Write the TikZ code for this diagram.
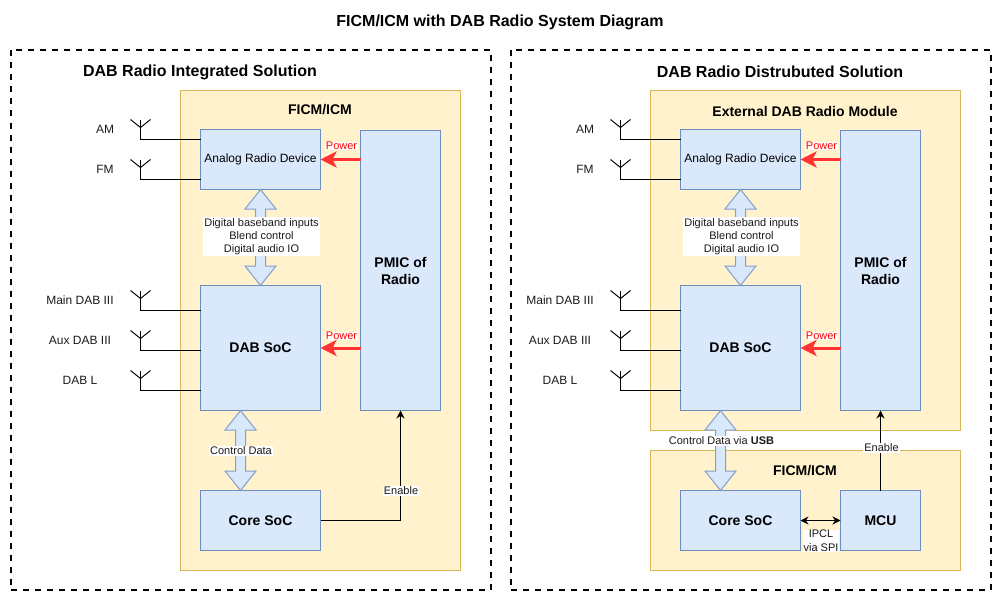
\documentclass[tikz,border=0pt]{standalone}
\usepackage{fontspec}
\setmainfont{Liberation Sans}
\usetikzlibrary{arrows.meta,calc}
\definecolor{yfill}{HTML}{FFF2CC}
\definecolor{ydraw}{HTML}{D6B656}
\definecolor{bfill}{HTML}{DAE8FC}
\definecolor{bdraw}{HTML}{6C8EBF}
\definecolor{pwr}{HTML}{FF3333}
\definecolor{ink}{HTML}{1A1A1A}
\newcommand{\dn}[1]{\raisebox{-1.3pt}{#1}}
\tikzset{
  every node/.style={inner sep=0pt,outer sep=0pt,align=center,text=black},
  frame/.style={draw=black,line width=2pt,dash pattern=on 6pt off 6pt},
  container/.style={draw=ydraw,fill=yfill,line width=1pt,anchor=north west},
  box/.style={draw=bdraw,fill=bfill,line width=1pt,anchor=north west},
  boxbig/.style={box,font=\fontsize{14}{17}\selectfont\bfseries},
  boxsmall/.style={box,font=\fontsize{12}{14}\selectfont},
  heading/.style={yshift=-1pt,font=\fontsize{16}{18}\selectfont\bfseries},
  subhead/.style={yshift=-1pt,font=\fontsize{14}{16}\selectfont\bfseries},
  label/.style={yshift=-1.5pt,font=\fontsize{12}{14}\selectfont,text=ink},
  tag/.style={yshift=-1pt,font=\fontsize{11}{13}\selectfont,text=ink,fill=white,inner xsep=1pt,inner ysep=0.5pt},
  wire/.style={draw=black,line width=1pt},
  flow/.style={draw=black,line width=1pt,-{Stealth[length=8pt,width=8pt]}},
  both/.style={draw=black,line width=1pt,{Stealth[length=8pt,width=8pt]}-{Stealth[length=8pt,width=8pt]}},
  power/.style={draw=pwr,line width=3pt,-{Stealth[length=16pt,width=16pt,inset=4pt]}},
  powertag/.style={yshift=-1pt,font=\fontsize{11}{13}\selectfont,text=red,fill=white,inner xsep=1pt,inner ysep=0.5pt},
  blockarrow/.style={draw=bdraw!85!white,fill=bfill,line width=1pt,line join=miter},
}
% double block arrow between two named points
\newcommand{\dblarrow}[2]{%
  \draw[blockarrow] let \p1=(#1),\p2=(#2) in
    (\p1) -- (\x1+15.5pt,\y1-19.5pt) -- (\x1+5pt,\y1-19.5pt) -- (\x2+5pt,\y2+19.5pt)
    -- (\x2+15.5pt,\y2+19.5pt) -- (\p2) -- (\x2-15.5pt,\y2+19.5pt) -- (\x2-5pt,\y2+19.5pt)
    -- (\x1-5pt,\y1-19.5pt) -- (\x1-15.5pt,\y1-19.5pt) -- cycle;}
% antenna: #1 prefix name, #2 top y, #3 target box, #4 text, #5 text x
\newcommand{\antenna}[5]{%
  \coordinate (#1-top) at (140.5,#2);
  \coordinate (#1-in) at (#3.west |- 0,#2+20);
  \coordinate (#1-l) at (130.5,#2);
  \coordinate (#1-r) at (150.5,#2);
  \coordinate (#1-j) at (140.5,#2+8);
  \draw[wire] (#1-top) |- (#1-in);
  \draw[wire] (#1-l) -- (#1-j) -- (#1-r);
  \node[label] (#1-txt) at (#5,#2+8.5) {#4};}
% common part of a solution, #1 prefix
\newcommand{\common}[1]{%
  \node[boxsmall,minimum width=120pt,minimum height=60pt] (#1analog) at (200.5,129.5) {\dn{Analog Radio Device}};
  \node[boxbig,minimum width=80pt,minimum height=280pt] (#1pmic) at (360.5,130.5) {\rule{0pt}{11.5pt}PMIC of\\Radio};
  \node[boxbig,minimum width=120pt,minimum height=125pt] (#1dab) at (200.5,285.5) {\dn{DAB SoC}};
  \node[boxbig,minimum width=120pt,minimum height=60pt] (#1core) at (200.5,490.5) {Core SoC};
  \antenna{#1am}{119.5}{#1analog}{AM}{105}
  \antenna{#1fm}{159.5}{#1analog}{FM}{105}
  \antenna{#1main}{290.5}{#1dab}{Main DAB III}{80}
  \antenna{#1aux}{330.5}{#1dab}{Aux DAB III}{80}
  \antenna{#1dabl}{370.5}{#1dab}{DAB L}{80}
  \dblarrow{#1analog.south}{#1dab.north}
  \node[tag,minimum width=115pt,minimum height=39pt] (#1dig) at (261.5,235.5) {Digital baseband inputs\\Blend control\\Digital audio IO};
  \coordinate (#1pa) at (#1pmic.west |- #1analog.east);
  \draw[power] (#1pa) -- (#1analog.east);
  \node[powertag] (#1pt1) at (341.5,145) {Power};
  \coordinate (#1pb) at (#1pmic.west |- #1dab.east);
  \draw[power] (#1pb) -- (#1dab.east);
  \node[powertag] (#1pt2) at (341.5,335) {Power};
  \coordinate (#1cu) at ($(#1dab.south west)+(40,0)$);
  \coordinate (#1cl) at ($(#1core.north west)+(40,0)$);
  \dblarrow{#1cu}{#1cl}
}
\begin{document}
\begin{tikzpicture}[x=1pt,y=-1pt]
\useasboundingbox (0,0) rectangle (992,591);
\node[heading] (title) at (500,21) {FICM/ICM with DAB Radio System Diagram};
% left
\draw[frame] (10.5,50.5) rectangle (490.5,590);
\node[heading] (lhead) at (200,71) {DAB Radio Integrated Solution};
\node[container,minimum width=280pt,minimum height=480pt] (lfic) at (180.5,90.5) {};
\node[subhead] (lficlab) at (320,109) {FICM/ICM};
\common{l}
\node[tag] (lctl) at (241,450) {Control Data};
\coordinate (lturn) at (lpmic.south |- lcore.east);
\draw[flow] (lcore.east) -- (lturn) -- (lpmic.south);
\node[tag] (len) at (401,490) {Enable};
% right
\draw[frame] (510.5,50.5) rectangle (990.5,590);
\node[heading] (rhead) at (780,71) {DAB Radio Distrubuted Solution};
\node[container,minimum width=310pt,minimum height=340pt] (rext) at (650.5,90.5) {};
\node[container,minimum width=310pt,minimum height=120pt] (rfic) at (650.5,450.5) {};
\node[subhead] (rextlab) at (805,110) {External DAB Radio Module};
\node[subhead] (rficlab) at (805,470) {FICM/ICM};
\begin{scope}[shift={(480,0)}]
\common{r}
\end{scope}
\node[boxbig,minimum width=80pt,minimum height=60pt] (rmcu) at (840.5,490.5) {MCU};
\node[tag] (rctl) at (721.5,440) {Control Data via \textbf{USB}};
\draw[flow] (rmcu.north) -- (rpmic.south);
\node[tag] (ren) at (881.5,447) {Enable};
\draw[both] (rcore.east) -- (rmcu.west);
\node[tag,font=\fontsize{11}{14}\selectfont] (ripc) at (821,540) {IPCL\\via SPI};
\end{tikzpicture}
\end{document}
